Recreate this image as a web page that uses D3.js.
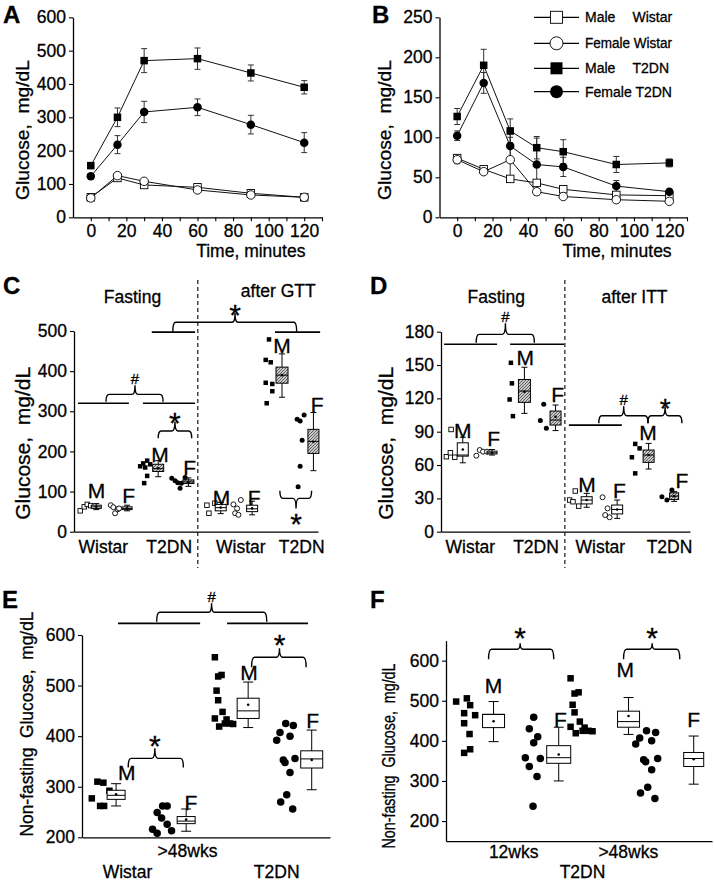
<!DOCTYPE html>
<html><head><meta charset="utf-8">
<script src="https://cdn.jsdelivr.net/npm/d3@7"></script>
<style>
body{margin:0;background:#fff}
svg{display:block;font-family:"Liberation Sans",Arial,Helvetica,sans-serif}
text{white-space:pre;stroke:#000;stroke-width:0.3px}
</style></head><body>
<svg id="chart" width="714" height="882"></svg>
<script>
// ================= DATA =================
// Panel A (GTT time course)
const timesA = [0, 15, 30, 60, 90, 120];
const aMaleWistar = [60, 118, 97, 90, 72, 60];
const aMaleWistarErr = [6, 6, 6, 6, 5, 5];
const aFemaleWistar = [58, 125, 108, 82, 67, 60];
const aFemaleWistarErr = [5, 7, 6, 5, 5, 4];
const aMaleT2DN = [155, 300, 470, 476, 433, 390];
const aMaleT2DNErr = [8, 28, 36, 32, 24, 20];
const aFemaleT2DN = [123, 218, 316, 330, 278, 224];
const aFemaleT2DNErr = [8, 27, 32, 25, 28, 30];
// Panel B (ITT time course)
const timesB = [0, 15, 30, 45, 60, 90, 120];
const bMaleWistar = [74, 60, 48, 43, 35, 28, 27];
const bMaleWistarErr = [4, 3, 3, 3, 3, 2, 2];
const bFemaleWistar = [72, 57, 72, 32, 26, 22, 20];
const bFemaleWistarErr = [5, 3, 28, 4, 2, 2, 2];
const bMaleT2DN = [126, 190, 108, 87, 82, 66, 68];
const bMaleT2DNErr = [10, 20, 15, 14, 15, 10, 5];
const bFemaleT2DN = [102, 168, 89, 66, 63, 39, 32];
const bFemaleT2DNErr = [6, 13, 15, 33, 12, 7, 3];
const legendLabels = [["Male", "Wistar"], ["Female", "Wistar"], ["Male", "T2DN"], ["Female", "T2DN"]];
const timeTicksA = [0, 20, 40, 60, 80, 100, 120];
// Panel C (fasting / after GTT), groups: Wistar M, Wistar F, T2DN M, T2DN F (fasting, then after GTT)
const cGroupLabels = ["M", "F", "M", "F", "M", "F", "M", "F"];
const cPoints = [
  [52, 62, 68, 65],
  [66, 61, 46, 56, 58],
  [163, 170, 177, 168, 160, 139, 121],
  [133, 127, 122, 121, 108, 135],
  [66, 46, 71],
  [68, 46, 79, 42, 58],
  [479, 428, 422, 371, 368, 350, 320],
  [291, 280, 276, 228, 163, 112]
];
const cLo   = [55, 52, 137, 113, 45, 42, 335, 152];
const cQ1   = [58, 55, 150, 120, 52, 50, 370, 195];
const cMed  = [62, 58, 157, 124, 60, 57, 390, 225];
const cQ3   = [66, 62, 168, 129, 68, 66, 410, 255];
const cHi   = [70, 66, 177, 134, 73, 76, 443, 297];
const cMean = [62, 58, 158, 124, 60, 58, 390, 224];
const cTicks = [0, 100, 200, 300, 400, 500];
// Panel D (fasting / after ITT)
const dPoints = [
  [67.5, 71, 67, 92],
  [68.4, 73.5, 72, 72],
  [152, 133.5, 119, 104],
  [114.6, 100, 93],
  [28.5, 27, 36.6, 23],
  [31, 15, 13, 21],
  [79, 75, 67, 52.5],
  [31.5, 28.5, 37.5]
];
const dLo   = [62, 69, 106.5, 91, 22, 12, 56.4, 27.3];
const dQ1   = [68, 70, 116.4, 96, 25, 16, 62.4, 29];
const dMed  = [69, 71, 126.6, 100.5, 28.5, 20, 69, 32];
const dQ3   = [80, 72.5, 137, 108.6, 31.5, 24, 73.5, 35];
const dHi   = [85, 74, 148, 114, 34.5, 28.5, 79.5, 36];
const dMean = [74, 71, 126, 103.5, 28.5, 20, 69, 32];
const dTicks = [0, 30, 60, 90, 120, 150, 180];
// Panel E (non-fasting, >48wks): Wistar M, Wistar F, T2DN M, T2DN F
const eWistarM = [310, 308, 292, 277, 262, 262];
const eWistarF = [216, 208, 249, 262, 262, 238, 226, 213];
const eT2dnM = [556, 518, 521, 490, 471, 448, 435, 419, 425, 425, 424, 433];
const eT2dnF = [392, 407, 425, 421, 400, 353, 348, 328, 356, 284, 270, 256];
const eLo   = [262, 212, 417, 294];
const eQ1   = [275, 227, 435, 337];
const eMed  = [283, 232, 450, 355];
const eQ3   = [293, 241, 475, 371];
const eHi   = [306, 256, 507, 412];
const eMean = [285, 235, 462, 353];
const eTicks = [200, 300, 400, 500, 600];
// Panel F (T2DN non-fasting, 12wks vs >48wks): 12 M, 12 F, >48 M, >48 F
const f12M = [498, 506, 489, 469, 464, 444, 417, 370, 379];
const f12F = [459, 430, 410, 395, 358, 356, 336, 311, 237];
const fLo   = [398, 300, 416, 292];
const fQ1   = [433, 344, 434, 336];
const fMed  = [466, 358, 448, 356];
const fQ3   = [466, 388, 474, 371];
const fHi   = [498, 434, 508, 412];
const fMean = [449, 366, 462, 354];
const fTicks = [200, 300, 400, 500, 600];

// ================= LAYOUT (positions only) =================
const cSlots = [0.73, 1.74, 2.76, 3.75, 4.81, 5.84, 6.82, 7.85];
const cJit = [[-16,-12,-9,-5.6],[-16.3,-13.7,-12,-9.3,-8],[-18,-15,-11,-8,-13,-11,-14],[-16.6,-13.3,-10.6,-7,-8.3,-3.3],
  [-13.8,-11.8,-5.8],[-18.7,-17,-11.3,-13.7,-15],[-13,-16.3,-11.3,-16.3,-9.7,-9.7,-15.3],[-9.3,-16.3,-13.3,-11.3,-13.3,-15.3]];
const cLabelPos = [[0.74,83],[1.79,71],[2.82,174],[3.79,141],[4.84,66],[5.91,66],[6.82,444],[7.97,299]];
const dSlots = [0.70, 1.64, 2.68, 3.68, 4.68, 5.66, 6.67, 7.49];
const dJit = [[-16.4,-12.4,-8,-11.7],[-15.7,-12.3,-9,-5],[-13.5,-12.5,-14.8,-11.5],[-11.8,-15.2,-9.2],
  [-17,-13.7,-11.4,-8],[-14.6,-12,-7.6,-9.6],[-13.4,-9,-16.7,-13.4],[-12.2,-7.2,-2.2]];
const dLabelPos = [[0.70,84],[1.69,77],[2.71,150],[3.75,117],[4.69,36],[5.73,30],[6.65,82.5],[7.74,39]];
const eSlots = [1.10, 3.36, 5.36, 7.41];
const eJit = [[-18.7,-12.7,-6.7,-24.3,-16,-12],[-33.6,-29,-29,-23.6,-19,-24.6,-19,-14.6],
  [-33.3,-30,-26.6,-31.6,-30,-25.6,-33.3,-29,-23.3,-18.3,-15,-21.6],
  [-35,-31.7,-26,-18.4,-21.7,-28.4,-26.7,-21.7,-16.7,-25,-31,-19]];
const eLabelPos = [[1.44,313],[3.51,254],[5.39,511],[7.44,415.5]];
const fSlots = [1.43, 3.39, 5.49, 7.45];
const fJit = [[-37.4,-26.7,-23.4,-29.4,-18.4,-29.4,-24,-29.4,-23.4],[-25,-29.4,-21,-25,-33.4,-18.4,-29.4,-21.7,-25.7],
  eJit[2].map(v => v * 1.2 - 18), eJit[3].map(v => v * 1.2 - 16)];
const fLabelPos = [[1.43,518.6],[3.44,435.3],[5.39,560],[7.45,435.3]];

const FONT = '"Liberation Sans", Arial, Helvetica, sans-serif';
const svg = d3.select("#chart");
const defs = svg.append("defs");
const pat = defs.append("pattern").attr("id","hatch").attr("patternUnits","userSpaceOnUse").attr("width",3).attr("height",3);
pat.append("rect").attr("width",3).attr("height",3).attr("fill","#c8c8c8");
pat.append("path").attr("d","M-1,1 l2,-2 M0,3 l3,-3 M2,4 l2,-2").attr("stroke","#555").attr("stroke-width",0.9);

function styleAxis(sel, fs) {
  sel.attr("font-family", FONT).attr("font-size", fs);
  sel.select(".domain").attr("stroke","#000").attr("stroke-width",1.3);
  sel.selectAll(".tick line").attr("stroke","#000").attr("stroke-width",1.1);
  sel.selectAll(".tick text").attr("fill","#000");
}
function txt(x, y, s, fs, anchor, weight) {
  return svg.append("text").attr("x", x).attr("y", y).attr("font-size", fs)
    .attr("text-anchor", anchor || "middle").attr("font-weight", weight || "normal").attr("fill","#000").text(s);
}
function yLabel(x, y, s, fs, len) {
  svg.append("text").attr("transform", `translate(${x},${y}) rotate(-90)`).attr("text-anchor","middle")
    .attr("font-size", fs).attr("textLength", len).attr("lengthAdjust","spacingAndGlyphs").attr("xml:space","preserve").text(s);
}
function marker(g, shape, open, cx, cy, size) {
  if (shape === "square") {
    g.append("rect").attr("x", cx - size/2).attr("y", cy - size/2).attr("width", size).attr("height", size)
      .attr("fill", open ? "#fff" : "#000").attr("stroke","#000").attr("stroke-width", open ? 0.9 : 0);
  } else {
    g.append("circle").attr("cx", cx).attr("cy", cy).attr("r", size/2)
      .attr("fill", open ? "#fff" : "#000").attr("stroke","#000").attr("stroke-width", open ? 0.9 : 0);
  }
}
function brace(x, y, x1, x2, xt, vEnd, vMain, vTip) {
  const X1 = x(x1), X2 = x(x2), XT = x(xt), YE = y(vEnd), YM = y(vMain), YT = y(vTip), r = 3;
  const d = `M${X1},${YE} Q${X1},${YM} ${X1+r},${YM} L${XT-r},${YM} Q${XT},${YM} ${XT},${YT} Q${XT},${YM} ${XT+r},${YM} L${X2-r},${YM} Q${X2},${YM} ${X2},${YE}`;
  svg.append("path").attr("d", d).attr("fill","none").attr("stroke","#000").attr("stroke-width",1.4);
}
function hline(x, y, a, b, v) {
  svg.append("line").attr("x1", x(a)).attr("x2", x(b)).attr("y1", y(v)).attr("y2", y(v))
    .attr("stroke","#000").attr("stroke-width",1.7);
}
function star(x, y, s, v, fs) { txt(x(s), y(v), "*", fs || 30); }
function hash(x, y, s, v) { txt(x(s), y(v), "#", 15); }

// ================= PANELS A & B =================
function timePanel(cfg) {
  const g = svg.append("g");
  const {x, y} = cfg;
  const ya = g.append("g").attr("transform", `translate(${x.range()[0]},0)`)
    .call(d3.axisLeft(y).tickValues(cfg.yTicks).tickSize(4).tickPadding(3).tickSizeOuter(0));
  styleAxis(ya, 17.5);
  const xa = g.append("g").attr("transform", `translate(0,${y.range()[0]})`)
    .call(d3.axisBottom(x).tickValues(d3.range(0, 131, 10)).tickSize(4).tickPadding(3).tickSizeOuter(0)
      .tickFormat(d => timeTicksA.includes(d) ? d : ""));
  styleAxis(xa, 17.5);
  cfg.series.forEach(s => {
    const line = d3.line().x((d, i) => x(cfg.times[i])).y(d => y(d));
    g.append("path").attr("d", line(s.vals)).attr("fill","none").attr("stroke", "#111").attr("stroke-width",1);
  });
  cfg.series.forEach(s => {
    s.vals.forEach((v, i) => {
      const cx = x(cfg.times[i]), e = s.errs[i];
      g.append("line").attr("x1",cx).attr("x2",cx).attr("y1",y(v-e)).attr("y2",y(v+e)).attr("stroke","#333").attr("stroke-width",1);
      [v-e, v+e].forEach(w => g.append("line").attr("x1",cx-3).attr("x2",cx+3).attr("y1",y(w)).attr("y2",y(w)).attr("stroke","#333").attr("stroke-width",1));
    });
  });
  cfg.series.forEach(s => {
    s.vals.forEach((v, i) => marker(g, s.shape, s.open, x(cfg.times[i]), y(v), s.shape === "square" ? 7.5 : 8.5));
  });
}
const xA = d3.scaleLinear().domain([-10, 130]).range([73, 322]);
const yA = d3.scaleLinear().domain([0, 600]).range([217.3, 17.3]);
timePanel({x: xA, y: yA, times: timesA, yTicks: [0,100,200,300,400,500,600], series: [
  {vals: aMaleWistar, errs: aMaleWistarErr, shape: "square", open: true},
  {vals: aFemaleWistar, errs: aFemaleWistarErr, shape: "circle", open: true},
  {vals: aMaleT2DN, errs: aMaleT2DNErr, shape: "square", open: false},
  {vals: aFemaleT2DN, errs: aFemaleT2DNErr, shape: "circle", open: false}]});
const xB = d3.scaleLinear().domain([-10, 130]).range([439.5, 687]);
const yB = d3.scaleLinear().domain([0, 250]).range([217.3, 17.3]);
timePanel({x: xB, y: yB, times: timesB, yTicks: [0,50,100,150,200,250], series: [
  {vals: bMaleWistar, errs: bMaleWistarErr, shape: "square", open: true},
  {vals: bFemaleWistar, errs: bFemaleWistarErr, shape: "circle", open: true},
  {vals: bMaleT2DN, errs: bMaleT2DNErr, shape: "square", open: false},
  {vals: bFemaleT2DN, errs: bFemaleT2DNErr, shape: "circle", open: false}]});
txt(250.8, 257.3, "Time, minutes", 17.5);
txt(617, 257.3, "Time, minutes", 17.5);
yLabel(28.5, 130, "Glucose,  mg/dL", 19, 140);
yLabel(391, 130, "Glucose,  mg/dL", 19, 140);
// legend
const legShapes = [["square", true], ["circle", true], ["square", false], ["circle", false]];
const legRowY = [17.3, 43.3, 68.3, 91.7];
legendLabels.forEach((lab, i) => {
  const ly = legRowY[i];
  svg.append("line").attr("x1",534).attr("x2",579).attr("y1",ly).attr("y2",ly).attr("stroke","#000").attr("stroke-width",1.3);
  marker(svg, legShapes[i][0], legShapes[i][1], 556.5, ly, legShapes[i][0] === "square" ? 12 : 13);
  if (lab[0] === "Male") {
    txt(585, ly + 5, lab[0], 14, "start");
    txt(632.5, ly + 5, lab[1], 14, "start");
  } else {
    txt(585, ly + 5, lab[0] + " " + lab[1], 14, "start").attr("textLength", 87).attr("lengthAdjust", "spacingAndGlyphs");
  }
});

// ================= STRIP + BOX helper =================
function stripBox(x, y, slots, pts, jit, lo, q1, md, q3, hi, mean, opt) {
  const g = svg.append("g");
  slots.forEach((s, i) => {
    const cx = x(s);
    const shape = opt.shapes[i], open = opt.open[i];
    pts[i].forEach((v, j) => marker(g, shape, open, cx + jit[i][j], y(v), shape === "square" ? opt.sq : opt.cr));
    const w = opt.boxW[i], cw = opt.capW;
    g.append("line").attr("x1",cx).attr("x2",cx).attr("y1",y(hi[i])).attr("y2",y(lo[i])).attr("stroke","#000").attr("stroke-width",1);
    [lo[i], hi[i]].forEach(v => g.append("line").attr("x1",cx-cw/2).attr("x2",cx+cw/2).attr("y1",y(v)).attr("y2",y(v)).attr("stroke","#000").attr("stroke-width",1));
    g.append("rect").attr("x", cx - w/2).attr("y", y(q3[i])).attr("width", w).attr("height", Math.max(0.5, y(q1[i]) - y(q3[i])))
      .attr("fill", opt.hatch[i] ? "url(#hatch)" : "#fff").attr("stroke","#000").attr("stroke-width",1);
    g.append("line").attr("x1",cx-w/2).attr("x2",cx+w/2).attr("y1",y(md[i])).attr("y2",y(md[i])).attr("stroke","#000").attr("stroke-width",1);
    g.append("circle").attr("cx",cx).attr("cy",y(mean[i])).attr("r",1.3).attr("fill","#000");
  });
}
function catAxes(x, y, ticks, fs) {
  const ya = svg.append("g").attr("transform", `translate(${x.range()[0]},0)`)
    .call(d3.axisLeft(y).tickValues(ticks).tickSize(4).tickPadding(3).tickSizeOuter(0));
  styleAxis(ya, fs);
  const xa = svg.append("g").attr("transform", `translate(0,${y.range()[0]})`)
    .call(d3.axisBottom(x).tickValues([]).tickSizeOuter(0));
  styleAxis(xa, fs);
}

// ================= PANEL C =================
const xC = d3.scaleLinear().domain([0, 8]).range([74, 318]);
const yC = d3.scaleLinear().domain([0, 500]).range([531.7, 331]);
catAxes(xC, yC, cTicks, 17.5);
svg.append("line").attr("x1", xC(4.06)).attr("x2", xC(4.06)).attr("y1", 280).attr("y2", 568)
  .attr("stroke","#000").attr("stroke-width",1.1).attr("stroke-dasharray","4,3");
stripBox(xC, yC, cSlots, cPoints, cJit, cLo, cQ1, cMed, cQ3, cHi, cMean, {
  shapes: ["square","circle","square","circle","square","circle","square","circle"],
  open: [true,true,false,false,true,true,false,false], sq: 4.5, cr: 5,
  boxW: [10,10,11,11,11,11,12,11], capW: 6, hatch: [false,false,true,true,false,false,true,true]});
cGroupLabels.forEach((l, i) => txt(xC(cLabelPos[i][0]), yC(cLabelPos[i][1]), l, 21));
hline(xC, yC, 0.13, 1.8, 320); hline(xC, yC, 2.26, 3.97, 320);
brace(xC, yC, 1.05, 2.92, 2.0, 324, 342, 365); hash(xC, yC, 2.0, 369);
hline(xC, yC, 2.55, 3.97, 497); hline(xC, yC, 6.59, 8.07, 497);
brace(xC, yC, 3.24, 7.30, 5.28, 499, 521.7, 545); star(xC, yC, 5.28, 516);
brace(xC, yC, 2.76, 3.86, 3.31, 232.7, 251, 274); star(xC, yC, 3.31, 246.6);
brace(xC, yC, 6.75, 7.79, 7.28, 102, 83, 58); star(xC, yC, 7.28, -6.5);
txt(132.5, 303.3, "Fasting", 17.5); txt(278.3, 296.7, "after GTT", 17.5);
txt(103.3, 553.3, "Wistar", 17.5); txt(169.2, 553.3, "T2DN", 17.5);
txt(240.8, 553.3, "Wistar", 17.5); txt(301.7, 553.3, "T2DN", 17.5);
yLabel(29.5, 443.3, "Glucose,  mg/dL", 20.5, 153);

// ================= PANEL D =================
const xD = d3.scaleLinear().domain([0, 8]).range([441, 690]);
const yD = d3.scaleLinear().domain([0, 180]).range([531.7, 331.7]);
catAxes(xD, yD, dTicks, 17.5);
svg.append("line").attr("x1", xD(3.98)).attr("x2", xD(3.98)).attr("y1", 280).attr("y2", 568)
  .attr("stroke","#000").attr("stroke-width",1.1).attr("stroke-dasharray","4,3");
stripBox(xD, yD, dSlots, dPoints, dJit, dLo, dQ1, dMed, dQ3, dHi, dMean, {
  shapes: ["square","circle","square","circle","square","circle","square","circle"],
  open: [true,true,false,false,true,true,false,false], sq: 4.5, cr: 5,
  boxW: [11,10,12,11,11,11,11,9], capW: 6, hatch: [false,false,true,true,false,false,true,true]});
cGroupLabels.forEach((l, i) => txt(xD(dLabelPos[i][0]), yD(dLabelPos[i][1]), l, 21));
hline(xD, yD, 0.1, 1.8, 168.7); hline(xD, yD, 2.22, 3.95, 168.7);
brace(xD, yD, 1.13, 3.0, 2.07, 170, 177.6, 187.6); hash(xD, yD, 2.07, 188.5);
hline(xD, yD, 4.11, 5.81, 96);
brace(xD, yD, 5.07, 6.65, 5.87, 97.5, 104.4, 113); hash(xD, yD, 5.87, 114);
brace(xD, yD, 6.65, 7.74, 7.2, 97.5, 104.4, 113); star(xD, yD, 7.2, 102.5, 28);
txt(496.2, 303.3, "Fasting", 17.5); txt(634.5, 303.3, "after ITT", 17.5);
txt(470.3, 553.3, "Wistar", 17.5); txt(536, 553.3, "T2DN", 17.5);
txt(600.3, 553.3, "Wistar", 17.5); txt(669.5, 553.3, "T2DN", 17.5);
yLabel(392.5, 443.3, "Glucose,  mg/dL", 20.5, 153);

// ================= PANEL E =================
const xE = d3.scaleLinear().domain([0, 8]).range([82, 330]);
const yE = d3.scaleLinear().domain([200, 600]).range([837.3, 635]);
catAxes(xE, yE, eTicks, 17.5);
stripBox(xE, yE, eSlots, [eWistarM, eWistarF, eT2dnM, eT2dnF], eJit, eLo, eQ1, eMed, eQ3, eHi, eMean, {
  shapes: ["square","circle","square","circle"], open: [false,false,false,false], sq: 6.5, cr: 7.5,
  boxW: [18,18,22,22], capW: 10, hatch: [false,false,false,false]});
["M","F","M","F"].forEach((l, i) => txt(xE(eLabelPos[i][0]), yE(eLabelPos[i][1]), l, 21));
hline(xE, yE, 1.16, 3.81, 623); hline(xE, yE, 4.68, 7.29, 623);
brace(xE, yE, 2.41, 5.96, 4.18, 626, 645, 663); hash(xE, yE, 4.18, 666);
brace(xE, yE, 1.49, 3.27, 2.35, 338, 356, 376); star(xE, yE, 2.35, 360.7);
brace(xE, yE, 5.47, 7.23, 6.37, 536, 556, 573.7); star(xE, yE, 6.37, 559.9);
txt(187.5, 856.7, ">48wks", 17.5); txt(127.5, 878.3, "Wistar", 17.5); txt(276.7, 878.3, "T2DN", 17.5);
yLabel(33, 724, "Non-fasting  Glucose,  mg/dL", 18, 225);

// ================= PANEL F =================
const xF = d3.scaleLinear().domain([0, 8]).range([446, 712]);
const yF = d3.scaleLinear().domain([150, 650]).range([841.1, 640.6]);
catAxes(xF, yF, fTicks, 17.5);
stripBox(xF, yF, fSlots, [f12M, f12F, eT2dnM, eT2dnF], fJit, fLo, fQ1, fMed, fQ3, fHi, fMean, {
  shapes: ["square","circle","square","circle"], open: [false,false,false,false], sq: 6.5, cr: 7.5,
  boxW: [22,24,22,20], capW: 10, hatch: [false,false,false,false]});
["M","F","M","F"].forEach((l, i) => txt(xF(fLabelPos[i][0]), yF(fLabelPos[i][1]), l, 21));
brace(xF, yF, 1.28, 3.24, 2.23, 603.4, 628.3, 643.3); star(xF, yF, 2.23, 632.3);
brace(xF, yF, 5.34, 7.03, 6.2, 603.4, 628.3, 643.3); star(xF, yF, 6.2, 632.3);
txt(513.7, 858.3, "12wks", 17.5); txt(628.3, 858.3, ">48wks", 17.5); txt(582.5, 877.7, "T2DN", 17.5);
yLabel(395, 756, "Non-fasting  Glucose,  mg/dL", 18.5, 185);

// ================= PANEL LETTERS =================
txt(3, 22.7, "A", 24, "start", "bold");
txt(372, 22.7, "B", 24, "start", "bold");
txt(3, 294, "C", 24, "start", "bold");
txt(370, 294, "D", 24, "start", "bold");
txt(2, 608.3, "E", 24, "start", "bold");
txt(370, 608.3, "F", 24, "start", "bold");
</script>
</body></html>
